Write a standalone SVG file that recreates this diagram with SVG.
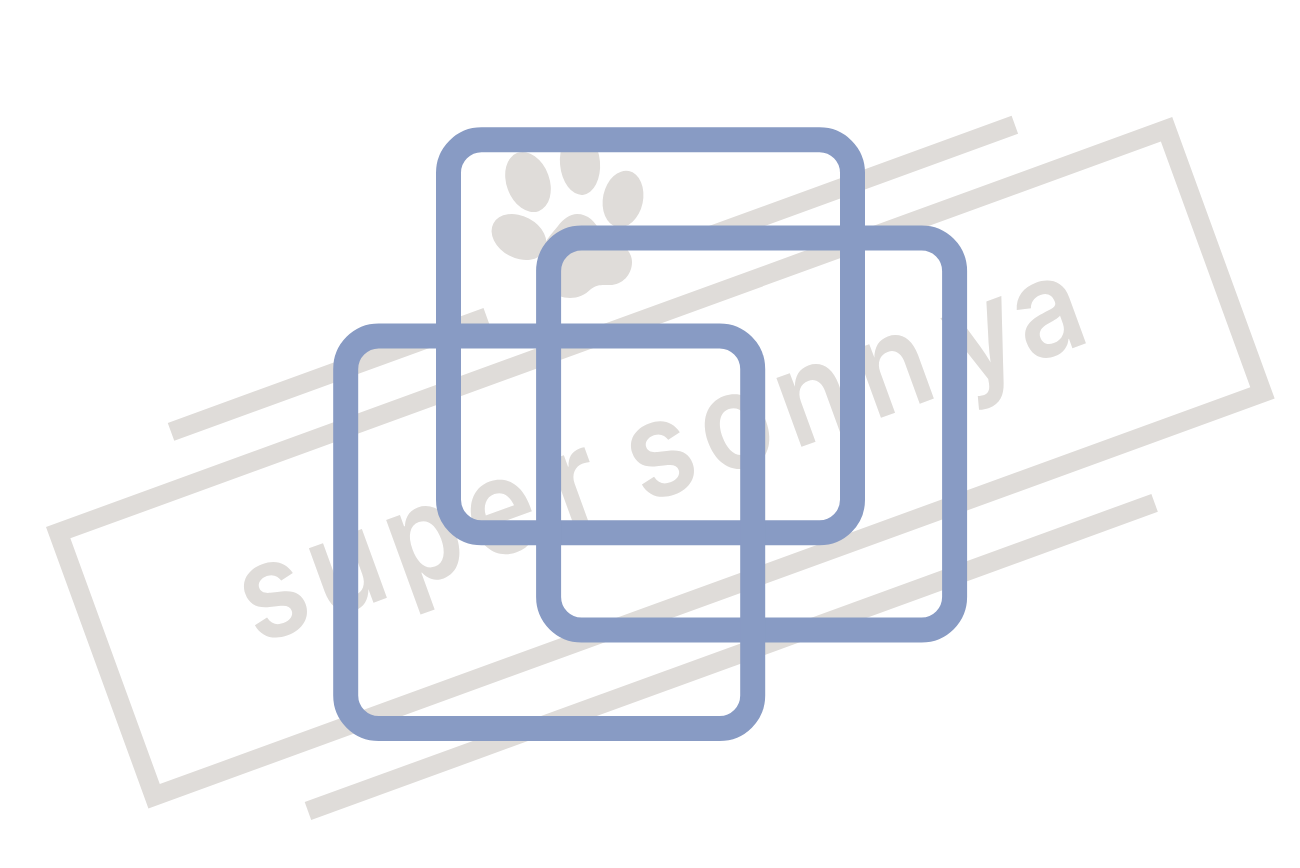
<svg xmlns="http://www.w3.org/2000/svg" width="1300" height="868" viewBox="0 0 1300 868">
<style>
.g{fill:#dfdcd9}
.gl{fill:none;stroke:#dfdcd9;stroke-width:19}
.b{fill:none;stroke:#889bc4;stroke-width:25}
.t{font-family:"Inter","Liberation Sans",sans-serif;font-size:134px;font-weight:600;fill:#dfdcd9;text-anchor:middle}
</style>
<rect width="1300" height="868" fill="#ffffff"/>
<g id="watermark">
<g transform="translate(46 527) rotate(-20)">
<rect class="gl" x="9.5" y="9.5" width="1179.5" height="280.5"/>
<path class="gl" d="M150 -46.6H486M712 -46.6H1048"/>
<path class="gl" d="M149 356.5H1050"/>
<text class="t" transform="scale(.88 1)" y="183" x="215.9 304.5 398.9 490.9 581.8 684.1 775 870 966 1073 1152.3">supersonnya</text>
</g>
<g id="paw">
<ellipse class="g" cx="528" cy="182" rx="21.5" ry="31" transform="rotate(-20 528 182)"/>
<ellipse class="g" cx="580" cy="163" rx="20" ry="32" transform="rotate(-5 580 163)"/>
<ellipse class="g" cx="623" cy="199" rx="20" ry="28.5" transform="rotate(12 623 199)"/>
<ellipse class="g" cx="519" cy="237" rx="29" ry="21" transform="rotate(28 519 237)"/>
<path class="g" d="M577 214C588 214 596 222 600 232C620 240 632 250 632 262C632 275 622 285 610 285C603 285 597 284 591 289C585 295 578 298 570 298C555 298 540 285 540 262C540 245 550 236 558 226C563 219 570 214 577 214Z"/>
</g>
</g>
<g id="square-top"><rect class="b" x="448.5" y="139.8" width="404" height="393" rx="33"/></g>
<g id="square-right"><rect class="b" x="548.6" y="238" width="406" height="392" rx="33"/></g>
<g id="square-left"><rect class="b" x="345.7" y="336" width="407" height="392.5" rx="33"/></g>
</svg>
